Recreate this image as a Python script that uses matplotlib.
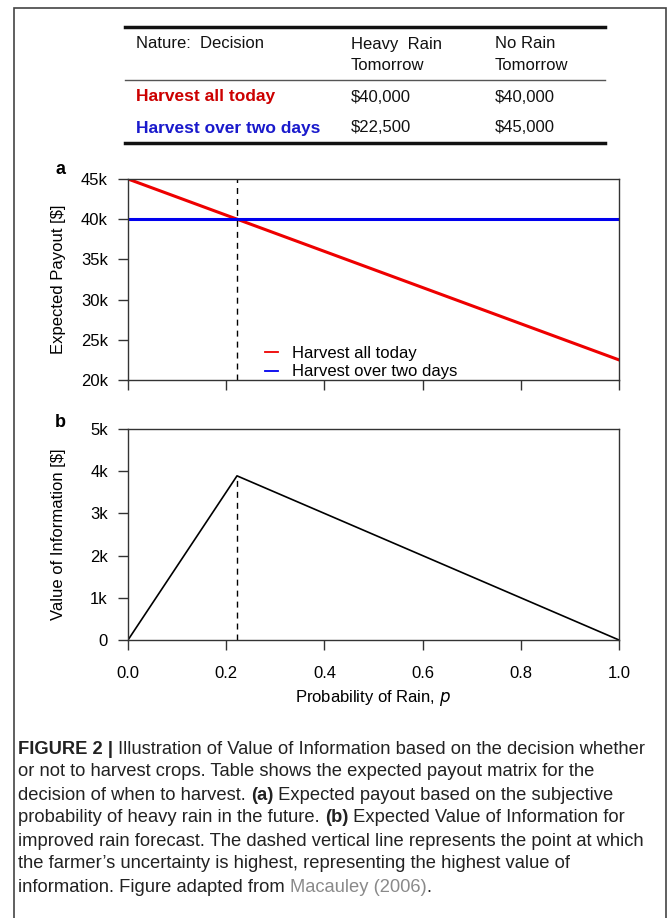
import matplotlib
matplotlib.use("Agg")
import matplotlib.pyplot as plt
from matplotlib.lines import Line2D
from matplotlib.patches import Rectangle

plt.rcParams['font.family'] = ['Liberation Sans', 'DejaVu Sans']

# ---------------- data ----------------
table_header = ["Nature:  Decision", "Heavy  Rain\nTomorrow", "No Rain\nTomorrow"]
table_rows = ["Harvest all today", "Harvest over two days"]
table_heavy = ["$40,000", "$22,500"]
table_norain = ["$40,000", "$45,000"]

p_vals = [0.0, 1.0]
harvest_today = [45000, 22500]
harvest_two_days = [40000, 40000]
p_star = 0.222

voi_p = [0.0, 0.222, 1.0]
voi_vals = [0, 3890, 0]

ticks_a = [20000, 25000, 30000, 35000, 40000, 45000]
ticklabels_a = ["20k", "25k", "30k", "35k", "40k", "45k"]
ticks_b = [0, 1000, 2000, 3000, 4000, 5000]
ticklabels_b = ["0", "1k", "2k", "3k", "4k", "5k"]
xticks = [0.0, 0.2, 0.4, 0.6, 0.8, 1.0]
xticklabels = ["0.0", "0.2", "0.4", "0.6", "0.8", "1.0"]

W, H = 669, 918
fig = plt.figure(figsize=(W / 100, H / 100), dpi=100)

def fx(px):
    return px / W

def fy(py):
    return 1 - py / H

# outer border
fig.add_artist(Rectangle((fx(14), fy(940)), fx(666) - fx(14), fy(8) - fy(940),
                         transform=fig.transFigure, fill=False, ec="#444444", lw=1.2))

# ---------------- table ----------------
tcol = "#111111"
fig.add_artist(Line2D([fx(125), fx(605)], [fy(27), fy(27)], transform=fig.transFigure, color="#111111", lw=2.5))
fig.add_artist(Line2D([fx(125), fx(605)], [fy(80), fy(80)], transform=fig.transFigure, color="#555555", lw=1.0))
fig.add_artist(Line2D([fx(125), fx(605)], [fy(143), fy(143)], transform=fig.transFigure, color="#111111", lw=2.5))
col_x = [136, 351, 495]
tfs = 12
fig.text(fx(col_x[0]), fy(44), table_header[0], fontsize=tfs, va="center", ha="left", color=tcol)
for i, h in enumerate(table_header[1:]):
    l1, l2 = h.split("\n")
    fig.text(fx(col_x[i + 1]), fy(44), l1, fontsize=tfs, va="center", ha="left", color=tcol)
    fig.text(fx(col_x[i + 1]), fy(66), l2, fontsize=tfs, va="center", ha="left", color=tcol)
row_y = [97, 128]
row_colors = ["#cc0000", "#1a1acc"]
for i, r in enumerate(table_rows):
    fig.text(fx(col_x[0]), fy(row_y[i]), r, fontsize=12.5, fontweight="bold", va="center", ha="left", color=row_colors[i])
    fig.text(fx(col_x[1]), fy(row_y[i]), table_heavy[i], fontsize=tfs, va="center", ha="left", color=tcol)
    fig.text(fx(col_x[2]), fy(row_y[i]), table_norain[i], fontsize=tfs, va="center", ha="left", color=tcol)

# ---------------- panels ----------------
fs = 12
dash = (0, (4.3, 3.6))

def style_ax(ax):
    for s in ax.spines.values():
        s.set_color("#333333")
        s.set_linewidth(1.0)
    ax.tick_params(direction="out", length=7.5, width=1.0, color="#333333", labelsize=fs)
    ax.tick_params(axis="y", pad=7)
    ax.tick_params(axis="x", pad=11)
    ax.tick_params(top=False, right=False)

axa = fig.add_axes([fx(128), fy(380), fx(619) - fx(128), fy(179) - fy(380)])
axa.plot(p_vals, harvest_today, color="#ee0000", lw=2.2, label="Harvest all today")
axa.plot(p_vals, harvest_two_days, color="#0000ee", lw=2.2, label="Harvest over two days")
axa.axvline(p_star, color="black", lw=1, ls=dash)
axa.set_xlim(0, 1)
axa.set_ylim(20000, 45000)
axa.set_yticks(ticks_a)
axa.set_yticklabels(ticklabels_a)
axa.set_xticks(xticks)
axa.set_xticklabels([])
style_ax(axa)
leg = axa.legend(loc="upper left", bbox_to_anchor=(fx(265), fy(346)), bbox_transform=fig.transFigure,
                 frameon=False, fontsize=fs, handlelength=0.75, handletextpad=0.9, labelspacing=0.2,
                 borderpad=0, borderaxespad=0)
for ln in leg.get_lines():
    ln.set_linewidth(1.3)
fig.text(fx(58), fy((179 + 380) / 2), "Expected Payout [$]", fontsize=fs, rotation=90,
         ha="center", va="center")
fig.text(fx(60), fy(170), "a", fontsize=13, fontweight="bold", ha="center", va="center")

axb = fig.add_axes([fx(128), fy(640), fx(619) - fx(128), fy(429) - fy(640)])
axb.plot(voi_p, voi_vals, color="black", lw=1.2)
axb.plot([p_star, p_star], [0, voi_vals[1]], color="black", lw=1, ls=dash)
axb.set_xlim(0, 1)
axb.set_ylim(0, 5000)
axb.set_yticks(ticks_b)
axb.set_yticklabels(ticklabels_b)
axb.set_xticks(xticks)
axb.set_xticklabels(xticklabels)
style_ax(axb)
fig.text(fx(58), fy((429 + 640) / 2), "Value of Information [$]", fontsize=fs, rotation=90,
         ha="center", va="center")
fig.text(fx(373), fy(698), "Probability of Rain, $\\it{p}$", fontsize=fs, ha="center", va="center")
fig.text(fx(60), fy(423), "b", fontsize=13, fontweight="bold", ha="center", va="center")

# ---------------- caption ----------------
cap_family = ['Liberation Sans', 'DejaVu Sans']
cfs = 13.2
cap_lines = [
    [("FIGURE 2 | ", "bold", "#222222"), ("Illustration of Value of Information based on the decision whether", "normal", "#222222")],
    [("or not to harvest crops. Table shows the expected payout matrix for the", "normal", "#222222")],
    [("decision of when to harvest. ", "normal", "#222222"), ("(a)", "bold", "#222222"), (" Expected payout based on the subjective", "normal", "#222222")],
    [("probability of heavy rain in the future. ", "normal", "#222222"), ("(b)", "bold", "#222222"), (" Expected Value of Information for", "normal", "#222222")],
    [("improved rain forecast. The dashed vertical line represents the point at which", "normal", "#222222")],
    [("the farmer\u2019s uncertainty is highest, representing the highest value of", "normal", "#222222")],
    [("information. Figure adapted from ", "normal", "#222222"), ("Macauley (2006)", "normal", "#8a8a8a"), (".", "normal", "#222222")],
]
renderer = fig.canvas.get_renderer()
y0 = 749
for li, segs in enumerate(cap_lines):
    x = 18
    y = y0 + li * 23
    for txt, wt, col in segs:
        t = fig.text(fx(x), fy(y), txt, fontsize=cfs, fontweight=wt, color=col,
                     family=cap_family, ha="left", va="center")
        bb = t.get_window_extent(renderer=renderer)
        x += bb.width

fig.savefig("out.png", dpi=100)
